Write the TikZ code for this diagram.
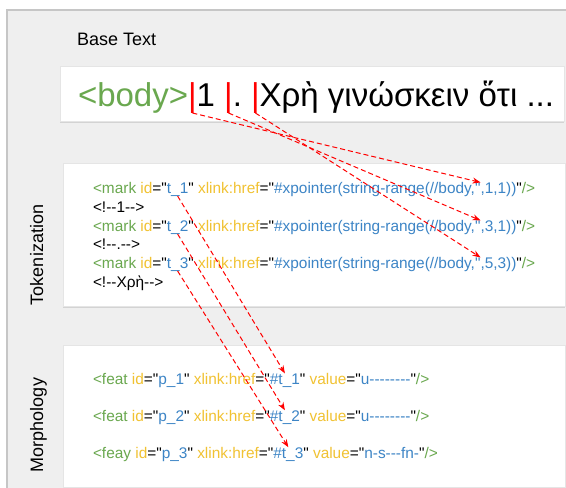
\documentclass[tikz,border=0pt]{standalone}
\usepackage{fontspec}
\setmainfont{Liberation Sans}[Ligatures=TeXOff]
\usetikzlibrary{arrows.meta,shadows}
\definecolor{panelgrey}{HTML}{EFEFEF}
\definecolor{panelline}{HTML}{C6C6C6}
\definecolor{xmlgreen}{HTML}{6AA84F}
\definecolor{xmlyellow}{HTML}{F1C232}
\definecolor{xmlblue}{HTML}{3D85C6}
\definecolor{markred}{HTML}{FF0000}
\newcommand{\tagc}[1]{\textcolor{xmlgreen}{#1}}
\newcommand{\attc}[1]{\textcolor{xmlyellow}{#1}}
\newcommand{\valc}[1]{\textcolor{xmlblue}{#1}}
\tikzset{
  card/.style={draw=black!10, fill=white, anchor=north west, inner sep=0pt,
    drop shadow={shadow xshift=0pt, shadow yshift=-2pt, opacity=.25}},
  code/.style={inner sep=0pt, outer sep=0pt, anchor=base west, font=\fontsize{15.4}{18}\selectfont},
  big/.style={inner sep=0pt, outer sep=0pt, anchor=base west, font=\fontsize{33}{38}\selectfont},
  layer/.style={inner sep=0pt, font=\fontsize{18}{21}\selectfont},
  link/.style={markred, line width=1pt, dash pattern=on 5pt off 3pt, -{Stealth[length=8pt,width=6pt]}}
}

\begin{document}
\begin{tikzpicture}[x=1pt, y=-1pt]
    \useasboundingbox (0,0) rectangle (566,488);
    \fill[white] (0,0) rectangle (566,488);

    % outer panel
    \draw[fill=panelgrey, draw=panelline, line width=1.5pt] (7,10) rectangle (600,520);

    % layer boxes
    \node[card, minimum width=504, minimum height=55] (basebox) at (60,66) {};
    \node[card, minimum width=502, minimum height=143] (tokbox) at (63,163) {};
    \node[card, minimum width=502, minimum height=142] (morbox) at (63,345) {};

    % layer labels
    \node[layer, anchor=base west] (baselbl) at (77,45) {Base Text};
    \node[layer, rotate=90, anchor=base] (toklbl) at (43,255) {Tokenization};
    \node[layer, rotate=90, anchor=base] (morlbl) at (43,425) {Morphology};

    % base text with token boundaries
    \node[big] (bodytag) at (78,106) {\tagc{<body>}};
    \node[big, text=markred] (cut1) at (bodytag.base east) {|};
    \node[big] (seg1) at (cut1.base east) {1\ \null};
    \node[big, text=markred] (cut2) at (seg1.base east) {|};
    \node[big] (seg2) at (cut2.base east) {.\ \null};
    \node[big, text=markred] (cut3) at (seg2.base east) {|};
    \node[big] (seg3) at (cut3.base east) {Χρὴ γινώσκειν ὅτι ...};

    % tokenization
    \node[code] (mk1a) at (93,193) {\tagc{<mark} \attc{id}="};
    \node[code] (mk1id) at (mk1a.base east) {\valc{t\_1}};
    \node[code] (mk1b) at (mk1id.base east) {" \attc{xlink:href}="\valc{\#xpointer(string-range(//body,}};
    \node[code] (mk1q) at (mk1b.base east) {\valc{"}};
    \node[code] (mk1c) at (mk1q.base east) {\valc{,1,1))}"\tagc{/>}};
    \node[code] (cm1) at (93,212) {<!--1-->};
    \node[code] (mk2a) at (93,231) {\tagc{<mark} \attc{id}="};
    \node[code] (mk2id) at (mk2a.base east) {\valc{t\_2}};
    \node[code] (mk2b) at (mk2id.base east) {" \attc{xlink:href}="\valc{\#xpointer(string-range(//body,}};
    \node[code] (mk2q) at (mk2b.base east) {\valc{"}};
    \node[code] (mk2c) at (mk2q.base east) {\valc{,3,1))}"\tagc{/>}};
    \node[code] (cm2) at (93,249.5) {<!--.-->};
    \node[code] (mk3a) at (93,268) {\tagc{<mark} \attc{id}="};
    \node[code] (mk3id) at (mk3a.base east) {\valc{t\_3}};
    \node[code] (mk3b) at (mk3id.base east) {" \attc{xlink:href}="\valc{\#xpointer(string-range(//body,}};
    \node[code] (mk3q) at (mk3b.base east) {\valc{"}};
    \node[code] (mk3c) at (mk3q.base east) {\valc{,5,3))}"\tagc{/>}};
    \node[code] (cm3) at (93,287) {<!--Χρὴ-->};

    % morphology
    \node[code] (ft1a) at (93,384) {\tagc{<feat} \attc{id}="\valc{p\_1}" \attc{xlink:href}="};
    \node[code] (ft1ref) at (ft1a.base east) {\valc{\#t\_1}};
    \node[code] (ft1b) at (ft1ref.base east) {" \attc{value}="\valc{u--------}"\tagc{/>}};
    \node[code] (ft2a) at (93,421) {\tagc{<feat} \attc{id}="\valc{p\_2}" \attc{xlink:href}="};
    \node[code] (ft2ref) at (ft2a.base east) {\valc{\#t\_2}};
    \node[code] (ft2b) at (ft2ref.base east) {" \attc{value}="\valc{u--------}"\tagc{/>}};
    \node[code] (ft3a) at (93,458) {\tagc{<feay} \attc{id}="\valc{p\_3}" \attc{xlink:href}="};
    \node[code] (ft3ref) at (ft3a.base east) {\valc{\#t\_3}};
    \node[code] (ft3b) at (ft3ref.base east) {" \attc{value}="\valc{n-s---fn-}"\tagc{/>}};

    % links: base text -> tokens
    \draw[link] (cut1.south) -- (mk1q.north east);
    \draw[link] (cut2.south) -- (mk2q.north east);
    \draw[link] (cut3.south) -- (mk3q.north east);

    % links: tokens -> morphology
    \draw[link] (mk1id.south) -- (ft1ref.north);
    \draw[link] (mk2id.south) -- (ft2ref.north);
    \draw[link] (mk3id.south) -- (ft3ref.north);
\end{tikzpicture}
\end{document}
